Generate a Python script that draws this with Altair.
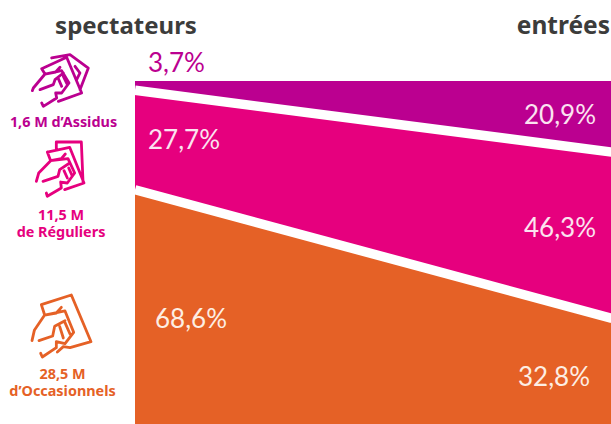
import altair as alt
import pandas as pd

# Share of spectators and of admissions for each audience group
groups = ["Assidus", "Réguliers", "Occasionnels"]
spectateurs = [3.7, 27.7, 68.6]
entrees = [20.9, 46.3, 32.8]
colors = ["#BB0090", "#E6007E", "#E56126"]
headings = ["spectateurs", "entrées"]
group_labels = [["1,6 M d’Assidus"], ["11,5 M", "de Réguliers"], ["28,5 M", "d’Occasionnels"]]

W, H = 611, 424
FONT = "Noto Sans"


def pct(v):
    return f"{v:.1f}%".replace(".", ",")


# Bands run from the spectators side (0) to the admissions side (1)
rows = []
for i, g in enumerate(groups):
    rows.append({"side": 0, "group": g, "rank": i, "value": spectateurs[i]})
    rows.append({"side": 1, "group": g, "rank": i, "value": entrees[i]})
bands_df = pd.DataFrame(rows)

# Running totals give the separators between neighbouring bands
sep_rows = []
for k in (1, 2):
    sep_rows.append({"side": 0, "edge": k, "total": sum(spectateurs[:k])})
    sep_rows.append({"side": 1, "edge": k, "total": sum(entrees[:k])})
sep_df = pd.DataFrame(sep_rows)

x_scale = alt.Scale(domain=[0, 1], range=[135, W + 1])
y_scale = alt.Scale(domain=[0, 95.5], range=[81, H])

bands = alt.Chart(bands_df).mark_area(clip=True, interpolate="linear").encode(
    x=alt.X("side:Q", scale=x_scale, axis=None),
    y=alt.Y("value:Q", stack="zero", scale=y_scale, axis=None),
    color=alt.Color("group:N", scale=alt.Scale(domain=groups, range=colors), legend=None),
    order=alt.Order("rank:Q"),
)

separators = alt.Chart(sep_df).mark_line(
    color="white", strokeWidth=9.5, yOffset=-4, clip=True
).encode(
    x=alt.X("side:Q", scale=x_scale, axis=None),
    y=alt.Y("total:Q", scale=y_scale, axis=None),
    detail="edge:N",
)


def text(s, x, y, color, size, weight="normal", align="center", font=FONT, line_height=17):
    return alt.Chart(pd.DataFrame({"t": [s]})).mark_text(
        align=align, baseline="alphabetic", color=color, fontSize=size,
        fontWeight=weight, font=font, lineHeight=line_height,
    ).encode(x=alt.value(x), y=alt.value(y), text="t")


layers = [bands, separators]

# Column headings
layers.append(text(headings[0], 126, 34, "#3C3C3B", 24, "bold"))
layers.append(text(headings[1], 610, 34, "#3C3C3B", 24.5, "bold", "right"))

# Percentages on the bands
value_slots = [
    (spectateurs[0], 148, 72, "left", colors[0]),
    (spectateurs[1], 148, 149, "left", "#FBE3F0"),
    (spectateurs[2], 155, 328, "left", "#FDEEE3"),
    (entrees[0], 596, 124, "right", "#FBE3F0"),
    (entrees[1], 596, 237, "right", "#FBE3F0"),
    (entrees[2], 590, 386, "right", "#FDEEE3"),
]
for v, x, y, al, c in value_slots:
    layers.append(text(pct(v), x, y, c, 26, 400, al, "Lato"))

# Audience captions, one multi-line text per group
caption_slots = [(63.5, 127), (61, 220), (62.5, 379)]
for lines, (x, y), c in zip(group_labels, caption_slots, colors):
    layers.append(text(lines if len(lines) > 1 else lines[0], x, y, c, 14.4, "bold"))


# Pictograms: a hand holding one to three tickets, outlined in the band colour
def glyph(segments):
    out = []
    for seg in segments:
        pts = [(px / 90, py / 90) for px, py in seg]
        out.append("M" + " L".join(f"{a:.3f} {b:.3f}" for a, b in pts))
    return " ".join(out)


icon_three = [
    [(50, 62), (125, 28), (170, 135), (100, 160)],
    [(50, 62), (60, 78), (92, 72), (105, 58)],
    [(60, 78), (25, 120), (22, 128)],
    [(45, 125), (85, 110), (90, 95), (115, 75)],
    [(60, 78), (110, 68), (132, 105), (110, 135), (92, 135), (95, 150), (55, 175), (50, 165)],
    [(100, 92), (110, 115)],
    [(115, 85), (126, 108)],
    [(80, 30), (135, 20), (190, 60), (165, 125)],
    [(150, 55), (165, 75), (155, 95)],
]
icon_two = [
    [(85, 35), (85, 12), (160, 12), (165, 130)],
    [(58, 42), (125, 28), (168, 135), (110, 155)],
    [(58, 42), (68, 68), (100, 62), (112, 48)],
    [(68, 68), (32, 105), (25, 130)],
    [(45, 130), (90, 115), (95, 95), (125, 75)],
    [(68, 68), (120, 62), (140, 105), (118, 135), (98, 132), (100, 150), (58, 175), (55, 165)],
    [(108, 98), (118, 120)],
    [(122, 90), (132, 112)],
]
icon_one = [
    [(46, 20), (136, -9), (195, 131), (132, 149), (112, 146), (94, 162)],
    [(46, 20), (56, 51), (91, 45), (106, 28)],
    [(56, 51), (25, 97), (18, 128)],
    [(39, 128), (80, 114), (86, 85), (117, 68)],
    [(56, 51), (117, 39), (143, 103), (117, 137), (91, 131), (91, 149), (49, 177), (44, 166)],
    [(101, 85), (112, 120)],
    [(117, 74), (132, 108)],
]
icons = [
    (icon_three, 25, 48, colors[0]),
    (icon_two, 28, 138, colors[1]),
    (icon_one, 26, 298, colors[2]),
]
for segs, ox, oy, c in icons:
    layers.append(
        alt.Chart(pd.DataFrame({"a": [0]})).mark_point(
            shape=glyph(segs), size=3600, filled=False, stroke=c,
            strokeWidth=2.8, opacity=1, strokeJoin="round", strokeCap="round",
        ).encode(x=alt.value(ox), y=alt.value(oy))
    )

chart = alt.layer(*layers).properties(
    width=W, height=H, padding=0, autosize=alt.AutoSizeParams(type="none"),
    background="white",
).configure_view(stroke=None)

chart.save("out.html", embed_options={"renderer": "svg", "actions": False})
